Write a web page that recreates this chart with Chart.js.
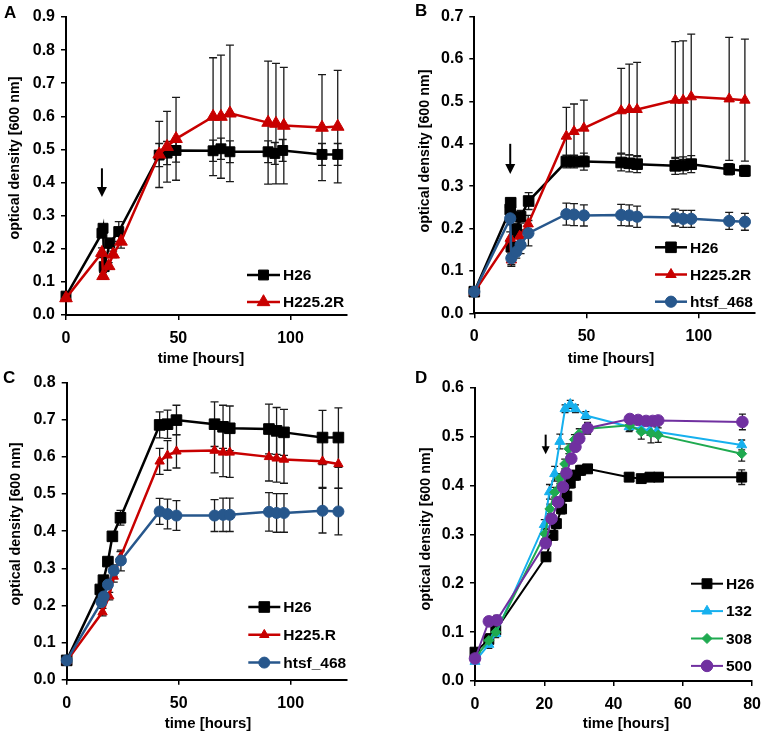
<!DOCTYPE html>
<html><head><meta charset="utf-8">
<script src="https://cdn.jsdelivr.net/npm/chart.js@4.4.1/dist/chart.umd.min.js"></script>
<style>
html,body{margin:0;padding:0;background:#fff;}
#wrap{position:relative;width:771px;height:734px;font-family:'Liberation Sans',Arial,sans-serif;font-weight:bold;color:#000;overflow:hidden;}
.panel{position:absolute;width:385px;height:367px;}
.panel canvas{position:absolute;left:0;top:0;}
.lbl{position:absolute;white-space:nowrap;font-weight:bold;line-height:1;}
.letter{font-size:17px;}
.yt{font-size:14.3px;transform:translate(-50%,-50%) rotate(-90deg);}
.xt{font-size:15px;transform:translate(-50%,-50%);}
</style></head>
<body>
<div id="wrap">
  <div class="panel" style="left:0;top:0"><canvas id="cA" width="385" height="367"></canvas></div>
  <div class="panel" style="left:385px;top:0"><canvas id="cB" width="385" height="367"></canvas></div>
  <div class="panel" style="left:0;top:367px"><canvas id="cC" width="385" height="367"></canvas></div>
  <div class="panel" style="left:385px;top:367px"><canvas id="cD" width="385" height="367"></canvas></div>

  <div class="lbl letter" style="left:4px;top:4px">A</div>
  <div class="lbl letter" style="left:415px;top:2px">B</div>
  <div class="lbl letter" style="left:3px;top:369px">C</div>
  <div class="lbl letter" style="left:415px;top:369px">D</div>

  <div class="lbl yt" style="left:14px;top:158px">optical density [600 nm]</div>
  <div class="lbl yt" style="left:424px;top:151px">optical density [600 nm]</div>
  <div class="lbl yt" style="left:15px;top:524px">optical density [600 nm]</div>
  <div class="lbl yt" style="left:425px;top:529px">optical density [600 nm]</div>

  <div class="lbl xt" style="left:201px;top:357px">time [hours]</div>
  <div class="lbl xt" style="left:611px;top:357px">time [hours]</div>
  <div class="lbl xt" style="left:208px;top:722px">time [hours]</div>
  <div class="lbl xt" style="left:626px;top:722px">time [hours]</div>
</div>
<script>
// ---------------- DATA ----------------
// Panel A
const aTimeH26 = [0, 16, 16.5, 17, 19.5, 23.5, 41.5, 45, 49, 65.5, 69, 73, 90, 93, 96.5, 114, 121];
const aH26     = [0.057, 0.247, 0.262, 0.146, 0.217, 0.252, 0.483, 0.489, 0.497, 0.496, 0.502, 0.493, 0.493, 0.488, 0.497, 0.485, 0.485];
const aH26Err  = [0.005, 0.01, 0.01, 0.01, 0.015, 0.03, 0.035, 0.035, 0.035, 0.032, 0.032, 0.033, 0.033, 0.033, 0.033, 0.033, 0.033];
const aTimeH225 = [0, 16, 16.5, 19, 21, 24.5, 41.5, 45, 49, 65.5, 69, 73, 90, 93.5, 97, 114, 121];
const aH225     = [0.051, 0.188, 0.118, 0.148, 0.183, 0.222, 0.485, 0.508, 0.532, 0.599, 0.599, 0.609, 0.581, 0.578, 0.572, 0.566, 0.569];
const aH225Err  = [0.005, 0.015, 0.01, 0.01, 0.01, 0.02, 0.1, 0.107, 0.125, 0.178, 0.186, 0.206, 0.186, 0.182, 0.176, 0.16, 0.17];

// Panel B
const bTimeH26 = [0, 16, 16.2, 16.5, 18.7, 20.6, 24.2, 41, 44.4, 48.8, 65.4, 69, 72.5, 89.5, 93, 96.6, 113.5, 120.5];
const bH26     = [0.051, 0.245, 0.261, 0.157, 0.197, 0.228, 0.265, 0.358, 0.358, 0.358, 0.356, 0.354, 0.352, 0.348, 0.349, 0.352, 0.340, 0.336];
const bH26Err  = [0.004, 0.01, 0.01, 0.01, 0.015, 0.015, 0.02, 0.015, 0.015, 0.02, 0.02, 0.02, 0.02, 0.02, 0.02, 0.02, 0.013, 0.013];
const bTimeH225 = [0, 16, 16.5, 20.2, 24, 41, 44.4, 48.8, 65.4, 69, 72.5, 89.5, 93, 96.6, 113.5, 120.5];
const bH225     = [0.05, 0.177, 0.126, 0.182, 0.211, 0.418, 0.429, 0.437, 0.478, 0.481, 0.481, 0.503, 0.503, 0.511, 0.506, 0.503];
const bH225Err  = [0.004, 0.015, 0.015, 0.015, 0.02, 0.068, 0.065, 0.066, 0.1, 0.107, 0.111, 0.138, 0.14, 0.148, 0.145, 0.144];
const bTimeHtsf = [0, 16, 16.5, 18.7, 20.6, 24.1, 41, 44.4, 48.8, 65.4, 69, 72.5, 89.5, 93, 96.6, 113.5, 120.5];
const bHtsf     = [0.051, 0.224, 0.13, 0.145, 0.161, 0.189, 0.234, 0.233, 0.231, 0.232, 0.231, 0.228, 0.226, 0.223, 0.223, 0.218, 0.216];
const bHtsfErr  = [0.004, 0.015, 0.015, 0.015, 0.02, 0.03, 0.026, 0.026, 0.025, 0.025, 0.025, 0.025, 0.02, 0.02, 0.02, 0.02, 0.02];

// Panel C
const cTimeH26 = [0, 15, 16.4, 18.4, 20.4, 24, 41.5, 45, 49, 66, 69.8, 72.8, 90.3, 93.7, 97, 114.2, 121.3];
const cH26     = [0.052, 0.243, 0.268, 0.318, 0.386, 0.436, 0.686, 0.688, 0.699, 0.688, 0.681, 0.677, 0.675, 0.67, 0.666, 0.652, 0.652];
const cH26Err  = [0.004, 0.01, 0.01, 0.01, 0.01, 0.02, 0.035, 0.038, 0.04, 0.06, 0.058, 0.06, 0.067, 0.063, 0.062, 0.073, 0.08];
const cTimeH225 = [0, 16, 19, 21, 24, 41.5, 45, 49, 66, 69.8, 72.8, 90.3, 93.7, 97, 114.2, 121.3];
const cH225     = [0.05, 0.182, 0.225, 0.278, 0.33, 0.588, 0.604, 0.615, 0.617, 0.612, 0.612, 0.6, 0.596, 0.593, 0.588, 0.581];
const cH225Err  = [0.004, 0.01, 0.01, 0.015, 0.015, 0.035, 0.04, 0.045, 0.06, 0.065, 0.067, 0.065, 0.064, 0.064, 0.07, 0.066];
const cTimeHtsf = [0, 15.5, 16.5, 18.4, 21, 24.2, 41.5, 45, 49, 66, 69.8, 72.8, 90.3, 93.7, 97, 114.2, 121.3];
const cHtsf     = [0.052, 0.209, 0.224, 0.256, 0.294, 0.321, 0.453, 0.446, 0.442, 0.442, 0.444, 0.444, 0.452, 0.449, 0.449, 0.455, 0.453];
const cHtsfErr  = [0.004, 0.01, 0.01, 0.01, 0.015, 0.028, 0.035, 0.04, 0.04, 0.043, 0.045, 0.045, 0.052, 0.052, 0.052, 0.06, 0.063];

// Panel D
const dTimeH26 = [0, 4, 6, 20.5, 22.5, 23.5, 25, 26.5, 27.5, 29, 30.5, 32.5, 44.5, 48, 50.5, 53, 77];
const dH26     = [0.059, 0.085, 0.104, 0.254, 0.298, 0.322, 0.352, 0.378, 0.405, 0.421, 0.431, 0.434, 0.417, 0.414, 0.417, 0.417, 0.417];
const dH26Err  = [0.005, 0.012, 0.01, 0.008, 0.01, 0.01, 0.01, 0.01, 0.01, 0.01, 0.01, 0.008, 0.008, 0.008, 0.008, 0.008, 0.015];
const dTime132 = [0, 4, 6, 20, 21.5, 23, 24.5, 26, 27.5, 29, 32, 44.5, 48, 50.5, 52.5, 77];
const d132     = [0.04, 0.075, 0.097, 0.32, 0.387, 0.424, 0.49, 0.557, 0.566, 0.557, 0.543, 0.52, 0.516, 0.513, 0.51, 0.483];
const d132Err  = [0.004, 0.008, 0.008, 0.01, 0.015, 0.015, 0.015, 0.008, 0.008, 0.008, 0.008, 0.01, 0.01, 0.01, 0.01, 0.01];
const dTime308 = [0, 4, 6, 20.2, 21.6, 23, 24.5, 25.9, 27.1, 28.7, 30.1, 32.5, 44.7, 48, 50.8, 52.9, 77];
const d308     = [0.047, 0.083, 0.1, 0.301, 0.352, 0.386, 0.414, 0.444, 0.475, 0.494, 0.506, 0.516, 0.523, 0.51, 0.507, 0.503, 0.465];
const d308Err  = [0.004, 0.008, 0.008, 0.01, 0.01, 0.01, 0.01, 0.01, 0.01, 0.01, 0.01, 0.01, 0.01, 0.015, 0.02, 0.015, 0.015];
const dTime500 = [0, 4, 6.3, 20.4, 22.1, 24, 25.4, 26.4, 27.8, 29, 30.1, 32.5, 44.7, 47.1, 49.4, 51.3, 52.9, 77.2];
const d500     = [0.046, 0.122, 0.124, 0.282, 0.332, 0.366, 0.397, 0.425, 0.455, 0.479, 0.496, 0.517, 0.536, 0.534, 0.532, 0.532, 0.533, 0.53];
const d500Err  = [0.004, 0.008, 0.01, 0.008, 0.008, 0.008, 0.008, 0.008, 0.008, 0.008, 0.008, 0.012, 0.008, 0.008, 0.008, 0.008, 0.008, 0.016];

// Axis ranges / ticks
const ymaxA = 0.9, ymaxB = 0.7, ymaxC = 0.8, ymaxD = 0.6;
const xmaxABC = 125, xStepABC = 50, xmaxD = 80, xStepD = 20;
// Arrow annotations (time, OD start, OD tip)
const arrowA = [16, 0.443, 0.356];
const arrowB = [16, 0.400, 0.329];
const arrowD = [20.4, 0.504, 0.464];

// ---------------- STYLE ----------------
const FONT = "'Liberation Sans', Arial, sans-serif";
Chart.defaults.font.family = FONT;
Chart.defaults.font.size = 16;
Chart.defaults.font.weight = 'bold';
Chart.defaults.color = '#000';

const RED = '#c80000', BLUE = '#27578c', CYAN = '#16b0ee', GREEN = '#1faa50', PURPLE = '#7030a0';

// ---------------- PLUGINS ----------------
const errorBars = {
  id: 'errorBars',
  beforeDatasetsDraw(chart) {
    const ctx = chart.ctx, xs = chart.scales.x, ys = chart.scales.y;
    const cap = chart.options.plugins.errorBars.cap;
    chart.data.datasets.forEach(ds => {
      if (!ds.errors) return;
      ctx.save();
      ctx.strokeStyle = '#1a1a1a';
      ctx.lineWidth = 1.3;
      ds.data.forEach((p, j) => {
        const e = ds.errors[j];
        const px = xs.getPixelForValue(p.x);
        const y1 = ys.getPixelForValue(p.y + e), y2 = ys.getPixelForValue(p.y - e);
        ctx.beginPath();
        ctx.moveTo(px, y1); ctx.lineTo(px, y2);
        ctx.moveTo(px - cap, y1); ctx.lineTo(px + cap, y1);
        ctx.moveTo(px - cap, y2); ctx.lineTo(px + cap, y2);
        ctx.stroke();
      });
      ctx.restore();
    });
  }
};

const cornerLegend = {
  id: 'cornerLegend',
  afterDraw(chart, args, opts) {
    const ctx = chart.ctx;
    chart.data.datasets.forEach((ds, i) => {
      const y = opts.y + i * opts.gap;
      ctx.save();
      ctx.strokeStyle = ds.borderColor;
      ctx.lineWidth = ds.borderWidth;
      ctx.beginPath(); ctx.moveTo(opts.x, y); ctx.lineTo(opts.x + opts.len, y); ctx.stroke();
      ctx.fillStyle = ds.pointBackgroundColor;
      ctx.strokeStyle = ds.pointBorderColor;
      ctx.lineWidth = 1;
      Chart.helpers.drawPoint(ctx, {pointStyle: ds.pointStyle, radius: ds.pointRadius, borderWidth: 1, rotation: 0}, opts.x + opts.len / 2, y);
      ctx.fillStyle = '#000';
      ctx.font = "bold 15.5px " + FONT;
      ctx.textAlign = 'left';
      ctx.textBaseline = 'middle';
      ctx.fillText(ds.label, opts.x + opts.len + 3, y + 1);
      ctx.restore();
    });
  }
};

const arrowPlugin = {
  id: 'arrowMark',
  afterDatasetsDraw(chart, args, opts) {
    if (!opts || !opts.at) return;
    const [t, y0, y1] = opts.at;
    const xs = chart.scales.x, ys = chart.scales.y, ctx = chart.ctx;
    const px = xs.getPixelForValue(t), pa = ys.getPixelForValue(y0), pb = ys.getPixelForValue(y1);
    ctx.save();
    ctx.strokeStyle = '#000'; ctx.fillStyle = '#000';
    ctx.lineWidth = opts.lw;
    ctx.beginPath(); ctx.moveTo(px, pa); ctx.lineTo(px, pb - opts.head * 0.8); ctx.stroke();
    ctx.beginPath();
    ctx.moveTo(px - opts.hw, pb - opts.head);
    ctx.lineTo(px + opts.hw, pb - opts.head);
    ctx.lineTo(px, pb);
    ctx.closePath(); ctx.fill();
    ctx.restore();
  }
};

// ---------------- BUILD ----------------
function series(label, t, v, e, color, style, r, lw) {
  return {label, t, v, e, color, style, r, lw};
}

function makePanel(id, p) {
  const n = p.series.length;
  const axisCommon = {
    grid: {drawOnChartArea: false, drawTicks: true, tickLength: 5, color: '#000', lineWidth: 1.5},
    border: {color: '#000', width: 2}
  };
  new Chart(document.getElementById(id), {
    type: 'line',
    data: {
      datasets: p.series.map((s, i) => ({
        label: s.label,
        data: s.t.map((t, j) => ({x: t, y: s.v[j]})),
        errors: s.e,
        borderColor: s.color, backgroundColor: s.color,
        pointBackgroundColor: s.color, pointBorderColor: s.color,
        pointStyle: s.style, pointRadius: s.r, pointBorderWidth: 1,
        borderWidth: s.lw, tension: 0, clip: false, order: n - i
      }))
    },
    options: {
      responsive: false, animation: false, events: [],
      layout: {padding: {left: 0, top: p.area.top, right: 385 - p.area.right, bottom: 0}},
      scales: {
        x: Object.assign({}, axisCommon, {
          type: 'linear', min: 0, max: p.xmax,
          afterFit(s) { s.height = 367 - p.area.bottom; },
          ticks: {stepSize: p.xstep, includeBounds: false, padding: 9, maxRotation: 0, autoSkip: false}
        }),
        y: Object.assign({}, axisCommon, {
          type: 'linear', min: 0, max: p.ymax,
          afterFit(s) { s.width = p.area.left; },
          ticks: {stepSize: 0.1, padding: 6, autoSkip: false, callback: v => v.toFixed(1)}
        })
      },
      plugins: {
        legend: {display: false}, tooltip: {enabled: false},
        errorBars: {cap: p.cap},
        cornerLegend: p.legend,
        arrowMark: p.arrow
      }
    },
    plugins: [errorBars, cornerLegend, arrowPlugin]
  });
}

makePanel('cA', {
  area: {left: 66, right: 346.7, top: 17, bottom: 315},
  xmax: xmaxABC, xstep: xStepABC, ymax: ymaxA, cap: 4,
  legend: {x: 247, y: 275, gap: 27, len: 33},
  arrow: {at: arrowA, lw: 2, hw: 5, head: 10},
  series: [
    series('H26', aTimeH26, aH26, aH26Err, '#000', 'rect', 7, 2.5),
    series('H225.2R', aTimeH225, aH225, aH225Err, RED, 'triangle', 7.3, 2.5)
  ]
});
makePanel('cB', {
  area: {left: 89.3, right: 370, top: 16.7, bottom: 313.3},
  xmax: xmaxABC, xstep: xStepABC, ymax: ymaxB, cap: 4,
  legend: {x: 270, y: 247.3, gap: 27.2, len: 32},
  arrow: {at: arrowB, lw: 2, hw: 5, head: 10},
  series: [
    series('H26', bTimeH26, bH26, bH26Err, '#000', 'rect', 7.5, 2.5),
    series('H225.2R', bTimeH225, bH225, bH225Err, RED, 'triangle', 6, 2.5),
    series('htsf_468', bTimeHtsf, bHtsf, bHtsfErr, BLUE, 'circle', 5.6, 2.5)
  ]
});
makePanel('cC', {
  area: {left: 66.7, right: 346.7, top: 15, bottom: 312.7},
  xmax: xmaxABC, xstep: xStepABC, ymax: ymaxC, cap: 4,
  legend: {x: 248.3, y: 240, gap: 27.8, len: 32},
  arrow: null,
  series: [
    series('H26', cTimeH26, cH26, cH26Err, '#000', 'rect', 7.5, 2.5),
    series('H225.R', cTimeH225, cH225, cH225Err, RED, 'triangle', 5.4, 2.5),
    series('htsf_468', cTimeHtsf, cHtsf, cHtsfErr, BLUE, 'circle', 5.5, 2.5)
  ]
});
makePanel('cD', {
  area: {left: 90, right: 373.3, top: 20.7, bottom: 314},
  xmax: xmaxD, xstep: xStepD, ymax: ymaxD, cap: 3.5,
  legend: {x: 306, y: 216.7, gap: 27.4, len: 32},
  arrow: {at: arrowD, lw: 2, hw: 4, head: 8},
  series: [
    series('H26', dTimeH26, dH26, dH26Err, '#000', 'rect', 7, 2),
    series('132', dTime132, d132, d132Err, CYAN, 'triangle', 5.8, 2),
    series('308', dTime308, d308, d308Err, GREEN, 'rectRot', 5, 2),
    series('500', dTime500, d500, d500Err, PURPLE, 'circle', 5.8, 2)
  ]
});
</script>
</body></html>
